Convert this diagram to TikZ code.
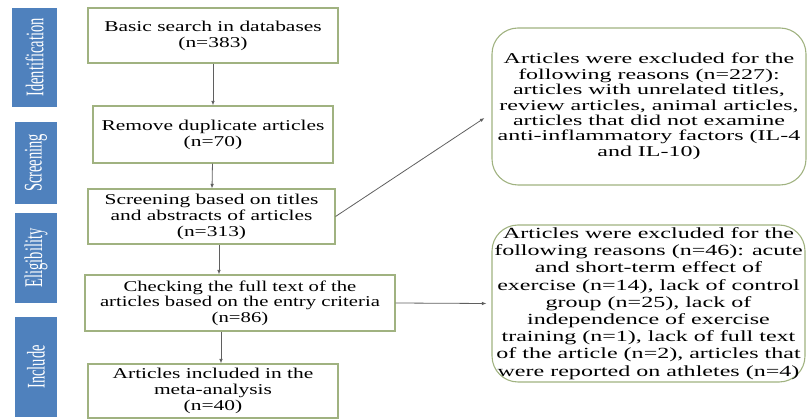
\documentclass[tikz,border=0pt]{standalone}
\usepackage{fontspec}
\usepackage{graphicx}
\usetikzlibrary{arrows.meta}
\setmainfont{Liberation Serif}
\newfontfamily\lfont{Liberation Serif}[FakeStretch=1.43]
\newfontfamily\lfontb{Liberation Serif}[FakeStretch=1.38]
\newfontfamily\rfonta{Liberation Serif}[FakeStretch=1.6]
\newfontfamily\rfontb{Liberation Serif}[FakeStretch=1.55]
\definecolor{boxgreen}{RGB}{160,178,128}
\definecolor{barblue}{RGB}{79,129,189}
\definecolor{arrgray}{RGB}{95,95,95}
\newcommand{\bartext}[1]{\rotatebox{90}{\scalebox{1}[1.75]{\fontsize{14.5}{15}\selectfont #1}}}
\tikzset{
  flowbox/.style={draw=boxgreen, line width=1.1pt, inner sep=0pt, align=center,
    font=\lfont\fontsize{15}{16}\selectfont},
  reasonbox/.style={draw=boxgreen, line width=1.1pt, inner sep=0pt, align=center,
    rounded corners=26pt},
  stagebar/.style={fill=barblue, draw=none, inner sep=0pt, text=white},
  arr/.style={draw=arrgray, line width=0.8pt, -{Latex[length=4.5pt,width=3.6pt]}, shorten >=0pt}
}
\begin{document}
\begin{tikzpicture}[x=1pt,y=-1pt]
\useasboundingbox (0,0) rectangle (807,419);
% stage bars
\node[stagebar, minimum width=45pt, minimum height=99pt] (s1) at (34.5,57.5) {\bartext{Identification}};
\node[stagebar, minimum width=42pt, minimum height=82pt] (s2) at (36,163) {\bartext{Screening}};
\node[stagebar, minimum width=42pt, minimum height=90pt] (s3) at (36,258) {\bartext{Eligibility}};
\node[stagebar, minimum width=42pt, minimum height=100pt] (s4) at (36,367) {\bartext{Include}};
% flow boxes
\node[flowbox, minimum width=250pt, minimum height=55pt] (b1) at (213,35.5) {Basic search in databases\\(n=383)};
\node[flowbox, minimum width=240pt, minimum height=57pt] (b2) at (213,134.5) {Remove duplicate articles\\(n=70)};
\node[flowbox, minimum width=247pt, minimum height=55pt] (b3) at (211.5,216.5) {Screening based on titles\\and abstracts of articles\\(n=313)};
\node[flowbox, minimum width=310pt, minimum height=56pt, font=\lfontb\fontsize{15}{15.5}\selectfont] (b4) at (240,303) {Checking the full text of the\\articles based on the entry criteria\\(n=86)};
\node[flowbox, minimum width=250pt, minimum height=54pt] (b5) at (213,391) {Articles included in the\\meta-analysis\\(n=40)};
% reason boxes
\node[reasonbox, minimum width=314pt, minimum height=157pt, font=\rfonta\fontsize{15}{15.4}\selectfont] (r1) at (649,106.5) {Articles were excluded for the\\following reasons (n=227):\\articles with unrelated titles,\\review articles, animal articles,\\articles that did not examine\\anti-inflammatory factors (IL-4\\and IL-10)};
\node[reasonbox, minimum width=313pt, minimum height=157pt, font=\rfontb\fontsize{15.5}{17.2}\selectfont] (r2) at (648.5,303.5) {Articles were excluded for the\\following reasons (n=46): acute\\and short-term effect of\\exercise (n=14), lack of control\\group (n=25), lack of\\independence of exercise\\training (n=1), lack of full text\\of the article (n=2), articles that\\were reported on athletes (n=4)};
% connectors
\draw[arr] (b1) -- (b2);
\draw[arr] (b2) -- (b3);
\draw[arr] ([xshift=7.5pt]b3.south) -- ([xshift=7.5pt]b3.south |- b4.north);
\draw[arr] ([xshift=-19pt]b4.south) -- ([xshift=-19pt]b4.south |- b5.north);
\coordinate (t1) at ([xshift=-7pt,yshift=-11.5pt]r1.west);
\draw[arr] (b3.east) -- (t1);
\coordinate (t2) at ([xshift=-5pt]r2.west);
\draw[arr] (b4.east) -- (t2);
\end{tikzpicture}
\end{document}
